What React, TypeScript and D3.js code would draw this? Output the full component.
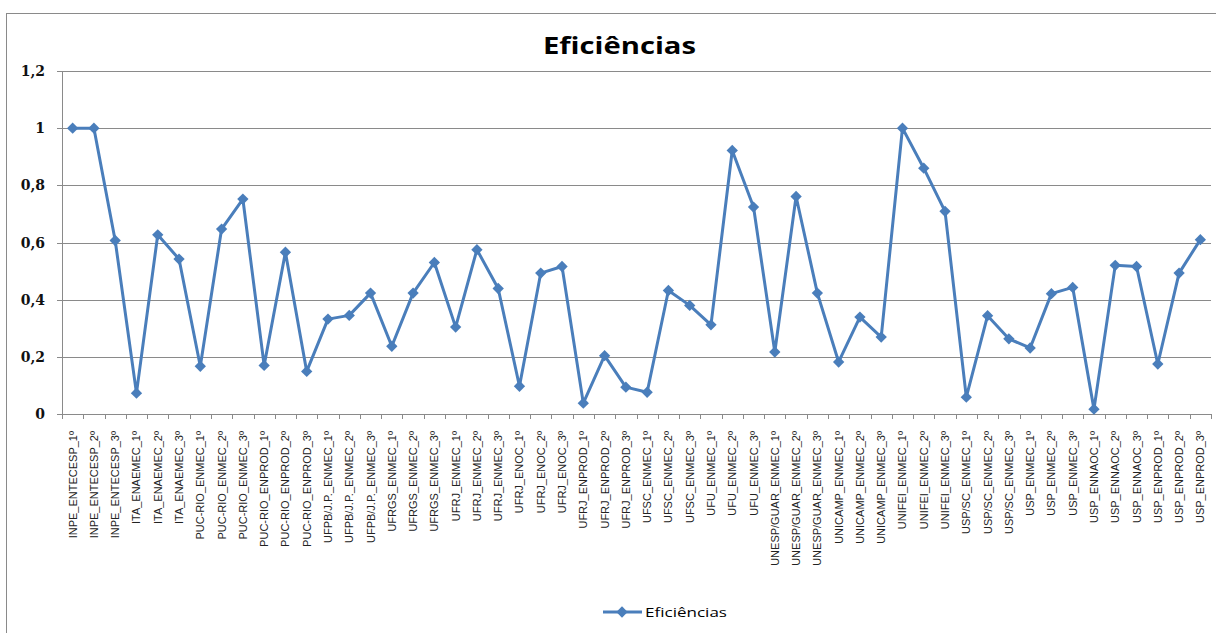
import React from "react";
import * as d3 from "d3";

const categories: string[] = [
  "INPE_ENTECESP_1º", "INPE_ENTECESP_2º", "INPE_ENTECESP_3º",
  "ITA_ENAEMEC_1º", "ITA_ENAEMEC_2º", "ITA_ENAEMEC_3º",
  "PUC-RIO_ENMEC_1º", "PUC-RIO_ENMEC_2º", "PUC-RIO_ENMEC_3º",
  "PUC-RIO_ENPROD_1º", "PUC-RIO_ENPROD_2º", "PUC-RIO_ENPROD_3º",
  "UFPB/J.P._ENMEC_1º", "UFPB/J.P._ENMEC_2º", "UFPB/J.P._ENMEC_3º",
  "UFRGS_ENMEC_1º", "UFRGS_ENMEC_2º", "UFRGS_ENMEC_3º",
  "UFRJ_ENMEC_1º", "UFRJ_ENMEC_2º", "UFRJ_ENMEC_3º",
  "UFRJ_ENOC_1º", "UFRJ_ENOC_2º", "UFRJ_ENOC_3º",
  "UFRJ_ENPROD_1º", "UFRJ_ENPROD_2º", "UFRJ_ENPROD_3º",
  "UFSC_ENMEC_1º", "UFSC_ENMEC_2º", "UFSC_ENMEC_3º",
  "UFU_ENMEC_1º", "UFU_ENMEC_2º", "UFU_ENMEC_3º",
  "UNESP/GUAR_ENMEC_1º", "UNESP/GUAR_ENMEC_2º", "UNESP/GUAR_ENMEC_3º",
  "UNICAMP_ENMEC_1º", "UNICAMP_ENMEC_2º", "UNICAMP_ENMEC_3º",
  "UNIFEI_ENMEC_1º", "UNIFEI_ENMEC_2º", "UNIFEI_ENMEC_3º",
  "USP/SC_ENMEC_1º", "USP/SC_ENMEC_2º", "USP/SC_ENMEC_3º",
  "USP_ENMEC_1º", "USP_ENMEC_2º", "USP_ENMEC_3º",
  "USP_ENNAOC_1º", "USP_ENNAOC_2º", "USP_ENNAOC_3º",
  "USP_ENPROD_1º", "USP_ENPROD_2º", "USP_ENPROD_3º",
];

const eficiencias: number[] = [
  1.0, 1.0, 0.607,
  0.073, 0.627, 0.542,
  0.167, 0.647, 0.752,
  0.17, 0.566, 0.149,
  0.332, 0.345, 0.423,
  0.237, 0.423, 0.53,
  0.304, 0.575, 0.439,
  0.097, 0.493, 0.516,
  0.038, 0.204, 0.094,
  0.076, 0.432, 0.38,
  0.312, 0.922, 0.724,
  0.217, 0.761, 0.423,
  0.182, 0.339, 0.269,
  1.0, 0.86, 0.709,
  0.059, 0.344, 0.263,
  0.231, 0.421, 0.443,
  0.017, 0.52, 0.516,
  0.175, 0.493, 0.61,
];

const yTicks: number[] = [0, 0.2, 0.4, 0.6, 0.8, 1, 1.2];
const yTickLabels: string[] = ["0", "0,2", "0,4", "0,6", "0,8", "1", "1,2"];
const seriesName = "Eficiências";
const chartTitle = "Eficiências";

const W = 1216;
const H = 633;
const LEFT = 62;
const RIGHT = 1211;
const TOP = 71;
const BOTTOM = 414;
const BLUE = "#4a7ebb";
const GRID = "#8a8a8a";

export default function App() {
  const x = d3.scaleBand<string>().domain(categories).range([LEFT, RIGHT]);
  const y = d3.scaleLinear().domain([0, 1.2]).range([BOTTOM, TOP]);
  const cx = (c: string) => (x(c) as number) + x.bandwidth() / 2;

  const line = d3
    .line<number>()
    .x((_, i) => cx(categories[i]))
    .y((d) => y(d));

  const diamond = d3.symbol().type(d3.symbolSquare).size(64)() as string;

  const boundaries = d3.range(categories.length + 1).map((i) => LEFT + i * x.bandwidth());

  return (
    <svg
      width={W}
      height={H}
      style={{ position: "absolute", left: 0, top: 0, background: "#fff" }}
    >
      {/* outer frame */}
      <rect x={6.5} y={13.5} width={1400} height={800} fill="#fff" stroke={GRID} strokeWidth={1} />

      {/* title */}
      <text
        x={543}
        y={54}
        fontFamily="'Open Sans', sans-serif"
        fontWeight={700}
        fontSize={23}
        textLength={153}
        lengthAdjust="spacingAndGlyphs"
        fill="#000"
      >
        {chartTitle}
      </text>

      {/* gridlines */}
      {yTicks.map((t) => (
        <line key={"g" + t} x1={LEFT - 5} x2={RIGHT} y1={Math.round(y(t)) + 0.5} y2={Math.round(y(t)) + 0.5} stroke={GRID} strokeWidth={1} />
      ))}
      {/* y axis line */}
      <line x1={LEFT + 0.5} x2={LEFT + 0.5} y1={y(1.2)} y2={BOTTOM + 5} stroke={GRID} strokeWidth={1} />
      {/* x tick marks */}
      {boundaries.map((b, i) => (
        <line key={"t" + i} x1={Math.round(b) + 0.5} x2={Math.round(b) + 0.5} y1={BOTTOM} y2={BOTTOM + 5} stroke={GRID} strokeWidth={1} />
      ))}

      {/* y tick labels */}
      {yTicks.map((t, i) => (
        <text
          key={"yl" + t}
          x={45}
          y={y(t)}
          dy="0.36em"
          textAnchor="end"
          fontFamily="'DejaVu Serif', serif"
          fontWeight={700}
          fontSize={14}
          fill="#111"
        >
          {yTickLabels[i]}
        </text>
      ))}

      {/* x labels */}
      {categories.map((c) => (
        <text
          key={"xl" + c}
          transform={`translate(${cx(c) + 4},${431}) rotate(-90)`}
          textAnchor="end"
          fontFamily="'Liberation Sans', Arial, sans-serif"
          fontSize={11}
          fill="#222"
        >
          {c}
        </text>
      ))}

      {/* series line */}
      <path d={line(eficiencias) as string} fill="none" stroke={BLUE} strokeWidth={3} strokeLinejoin="round" />
      {eficiencias.map((v, i) => (
        <path
          key={"m" + i}
          d={diamond}
          transform={`translate(${cx(categories[i])},${y(v)}) rotate(45)`}
          fill={BLUE}
        />
      ))}

      {/* legend */}
      <line x1={603} x2={642} y1={612} y2={612} stroke={BLUE} strokeWidth={3} />
      <path d={diamond} transform={`translate(622,612) rotate(45)`} fill={BLUE} />
      <text
        x={645}
        y={617}
        fontFamily="'Open Sans', sans-serif"
        fontSize={12.5}
        textLength={82}
        lengthAdjust="spacingAndGlyphs"
        fill="#000"
      >
        {seriesName}
      </text>
    </svg>
  );
}
